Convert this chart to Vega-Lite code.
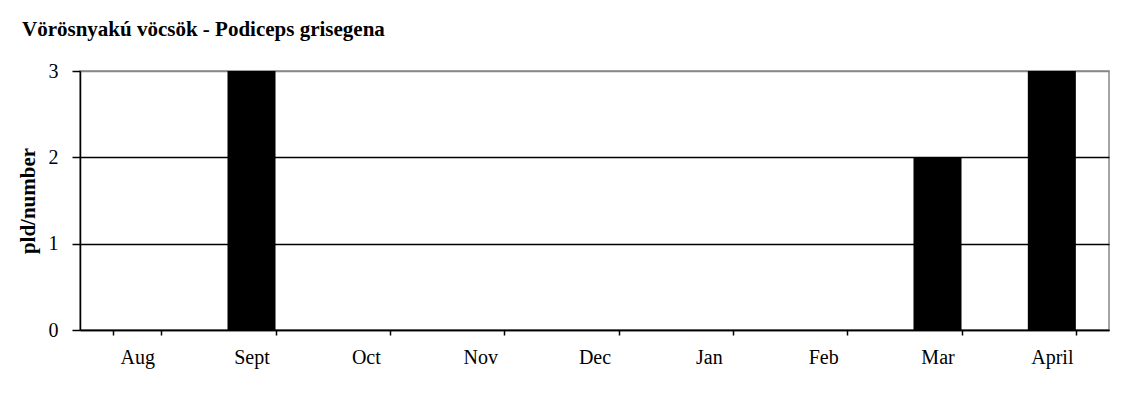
{
  "$schema": "https://vega.github.io/schema/vega-lite/v6.json",
  "width": 1029,
  "height": 259,
  "autosize": "none",
  "padding": {"left": 80, "top": 71, "right": 22, "bottom": 80},
  "background": "white",
  "title": {
    "text": "Vörösnyakú vöcsök - Podiceps grisegena",
    "anchor": "start",
    "frame": "group",
    "font": "Liberation Serif",
    "fontSize": 21,
    "fontWeight": "bold",
    "color": "black",
    "baseline": "alphabetic",
    "dx": -58,
    "offset": 4
  },
  "data": {
    "values": [
      {"month": "Aug", "count": 0},
      {"month": "Sept", "count": 3},
      {"month": "Oct", "count": 0},
      {"month": "Nov", "count": 0},
      {"month": "Dec", "count": 0},
      {"month": "Jan", "count": 0},
      {"month": "Feb", "count": 0},
      {"month": "Mar", "count": 2},
      {"month": "April", "count": 3}
    ]
  },
  "mark": {"type": "bar", "color": "black"},
  "encoding": {
    "x": {
      "field": "month",
      "type": "nominal",
      "sort": null,
      "scale": {"paddingInner": 0.58, "paddingOuter": 0.29},
      "axis": {
        "title": null,
        "tickBand": "extent",
        "labelAngle": 0,
        "labelFont": "Liberation Serif",
        "labelFontSize": 20,
        "labelColor": "black",
        "labelPadding": 12,
        "tickColor": "black",
        "tickSize": 5,
        "tickWidth": 1.5,
        "domainColor": "black",
        "domainWidth": 1.5,
        "grid": false
      }
    },
    "y": {
      "field": "count",
      "type": "quantitative",
      "scale": {"domain": [0, 3], "nice": false},
      "axis": {
        "title": "pld/number",
        "titleFont": "Liberation Serif",
        "titleFontSize": 21,
        "titleFontWeight": "bold",
        "titleColor": "black",
        "titlePadding": 10,
        "values": [0, 1, 2, 3],
        "format": "d",
        "labelFont": "Liberation Serif",
        "labelFontSize": 20,
        "labelColor": "black",
        "labelPadding": 14,
        "tickColor": "black",
        "tickSize": 8,
        "tickWidth": 1.5,
        "domainColor": "black",
        "domainWidth": 1.5,
        "grid": true,
        "gridColor": {"condition": {"test": "datum.value === 3", "value": "#888888"}, "value": "black"},
        "gridWidth": 1.5,
        "gridOpacity": 1
      }
    }
  },
  "config": {
    "view": {"stroke": "#888888", "strokeWidth": 1.5}
  }
}
